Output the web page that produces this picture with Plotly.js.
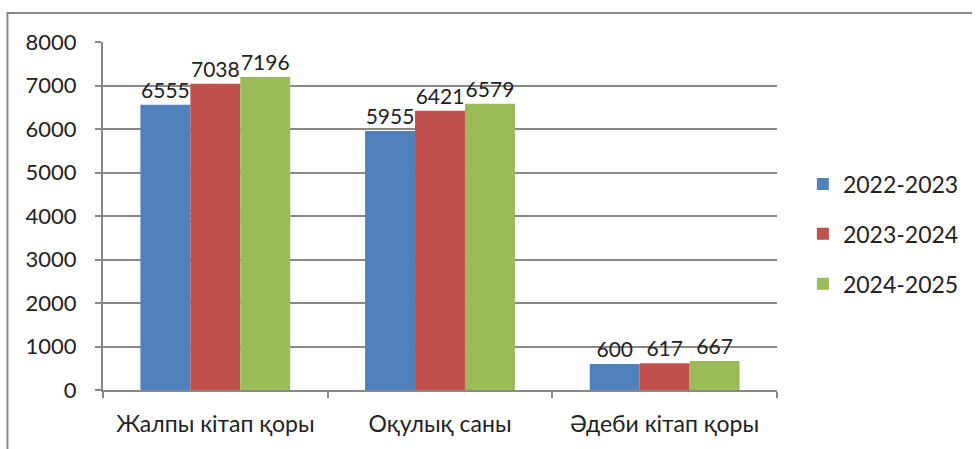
<!DOCTYPE html>
<html>
<head>
<meta charset="utf-8">
<script src="https://cdn.plot.ly/plotly-3.0.1.min.js"></script>
<style>
  html, body { margin: 0; padding: 0; background: #fff; }
  #chart { width: 976px; height: 449px; }
</style>
</head>
<body>
<div id="chart"></div>
<script>
const categories = ["Жалпы кітап қоры", "Оқулық саны", "Әдеби кітап қоры"];
const seriesNames = ["2022-2023", "2023-2024", "2024-2025"];
const values2022 = [6555, 5955, 600];
const values2023 = [7038, 6421, 617];
const values2024 = [7196, 6579, 667];
const colors = ["#4F81BD", "#C0504D", "#9BBB59"];

const font = "Lato, 'Open Sans', sans-serif";

const traces = [values2022, values2023, values2024].map((vals, i) => ({
    type: "bar",
    name: seriesNames[i],
    x: categories,
    y: vals,
    text: vals.map(String),
    textposition: "outside",
    cliponaxis: false,
    textfont: { family: font, size: 21, color: "#222" },
    marker: { color: colors[i] },
    legendgroup: "g" + i
}));

// frame around the chart (left and top edges visible)
const px = (x) => (x - 103) / 677;
const py = (y) => (390 - y) / 348;

const layout = {
    width: 976,
    height: 449,
    margin: { l: 103, r: 196, t: 42, b: 59 },
    paper_bgcolor: "#fff",
    plot_bgcolor: "#fff",
    barmode: "group",
    bargap: 0.333,
    bargroupgap: 0,
    font: { family: font, size: 18, color: "#222" },
    showlegend: true,
    legend: {
        x: px(806),
        y: py(234),
        yanchor: "middle",
        xanchor: "left",
        font: { family: font, size: 23, color: "#222" },
        traceorder: "grouped",
        tracegroupgap: 17,
        itemwidth: 30
    },
    xaxis: {
        showline: true,
        linecolor: "#888",
        linewidth: 2,
        ticks: "outside",
        ticklen: 6,
        tickcolor: "#888",
        tickwidth: 2,
        tickson: "boundaries",
        ticklabelstandoff: 12,
        tickfont: { family: font, size: 23, color: "#222" },
        showgrid: false
    },
    yaxis: {
        range: [0, 8000],
        dtick: 1000,
        showline: true,
        linecolor: "#888",
        linewidth: 2,
        ticks: "outside",
        ticklen: 6,
        tickcolor: "#888",
        tickwidth: 2,
        ticklabelstandoff: 14,
        showgrid: true,
        gridcolor: "#888",
        gridwidth: 2,
        zeroline: false,
        tickfont: { family: font, size: 22, color: "#222" }
    },
    shapes: [{
        type: "path",
        xref: "paper",
        yref: "paper",
        path: `M ${px(7)} ${py(449)} L ${px(7)} ${py(13)} L ${px(976)} ${py(13)}`,
        line: { color: "#888", width: 2 }
    }]
};

Plotly.newPlot("chart", traces, layout, { displayModeBar: false });
</script>
</body>
</html>
